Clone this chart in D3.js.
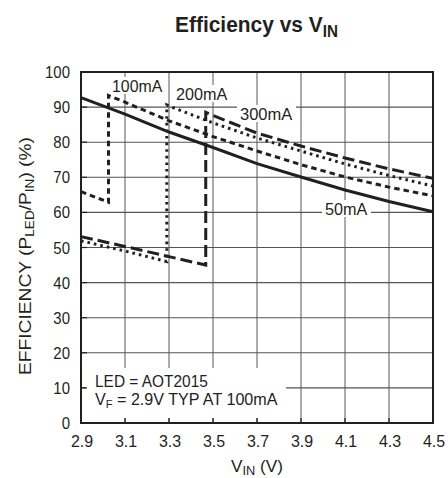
<!DOCTYPE html>
<html><head><meta charset="utf-8">
<script src="https://cdn.jsdelivr.net/npm/d3@7"></script>
<style>
body{margin:0;background:#fff;}
svg text{font-family:'Liberation Sans','Arial',sans-serif;fill:#231f20;}
</style></head>
<body><svg id="c" width="448" height="478"></svg>
<script>
// ---- data ----
const xTicks = [2.9, 3.1, 3.3, 3.5, 3.7, 3.9, 4.1, 4.3, 4.5];
const xTickLabels = ["2.9","3.1","3.3","3.5","3.7","3.9","4.1","4.3","4.5"];
const yTicks = [0,10,20,30,40,50,60,70,80,90,100];

const vin50  = [2.9, 3.1, 3.3, 3.5, 3.7, 3.9, 4.1, 4.3, 4.5];
const eff50  = [92.7, 88.0, 82.9, 78.5, 73.9, 70.1, 66.4, 63.1, 60.2];

const vin100 = [2.9, 3.025, 3.025, 3.1, 3.3, 3.5, 3.7, 3.9, 4.1, 4.3, 4.5];
const eff100 = [65.9, 62.9, 93.3, 91.4, 86.1, 81.6, 77.5, 73.6, 70.1, 67.2, 64.7];

const vin200 = [2.9, 3.1, 3.29, 3.29, 3.3, 3.5, 3.7, 3.9, 4.1, 4.3, 4.5];
const eff200 = [51.9, 49.0, 46.0, 90.6, 90.3, 85.5, 81.2, 77.5, 73.8, 70.5, 67.5];

const vin300 = [2.9, 3.1, 3.3, 3.467, 3.467, 3.5, 3.7, 3.9, 4.1, 4.3, 4.5];
const eff300 = [53.1, 50.3, 47.4, 45.0, 88.5, 87.6, 82.6, 78.9, 75.5, 72.4, 69.7];

const seriesNames = ["50mA","100mA","200mA","300mA"];

// ---- chart ----
const svg = d3.select("#c");
const x = d3.scaleLinear().domain([2.9, 4.5]).range([81, 433]);
const y = d3.scaleLinear().domain([0, 100]).range([423, 72]);
const ink = "#231f20";

// text helper: condensed text via horizontal scale around the anchor point
function ctext(parent, X, Y, opts, build) {
  const g = parent.append("g");
  const t = g.append("text").attr("x", 0).attr("y", 0)
    .attr("text-anchor", opts.anchor || "start")
    .attr("font-size", opts.size || 17);
  if (opts.bold) t.attr("font-weight", "bold");
  build(t);
  let s = opts.scale || 1;
  if (opts.width) s = opts.width / t.node().getBBox().width;
  g.attr("transform", `translate(${X},${Y})${opts.rotate ? " rotate(" + opts.rotate + ")" : ""} scale(${s},1)`);
  return g;
}

// grid
svg.append("g").selectAll("line").data(xTicks.slice(1,-1)).join("line")
  .attr("x1", d=>x(d)).attr("x2", d=>x(d)).attr("y1", y(0)).attr("y2", y(100))
  .attr("stroke", "#666").attr("stroke-width", 1.1);
svg.append("g").selectAll("line").data(yTicks.slice(1,-1)).join("line")
  .attr("x1", x(2.9)).attr("x2", x(4.5)).attr("y1", d=>y(d)).attr("y2", d=>y(d))
  .attr("stroke", "#555").attr("stroke-width", 1.1);

// white box behind the note
svg.append("rect").attr("x", 86).attr("y", 368).attr("width", 200).attr("height", 50).attr("fill", "#fff");

// inner ticks
svg.append("g").selectAll("line").data(xTicks.slice(1,-1)).join("line")
  .attr("x1", d=>x(d)).attr("x2", d=>x(d)).attr("y1", y(0)).attr("y2", y(0)-5)
  .attr("stroke", ink).attr("stroke-width", 1.2);
svg.append("g").selectAll("line").data(yTicks.slice(1,-1)).join("line")
  .attr("x1", x(2.9)).attr("x2", x(2.9)+6).attr("y1", d=>y(d)).attr("y2", d=>y(d))
  .attr("stroke", ink).attr("stroke-width", 1.2);

// series
const line = d3.line().x(d=>x(d[0])).y(d=>y(d[1])).curve(d3.curveLinear);
const series = [
  {v: vin50,  e: eff50,  dash: null},
  {v: vin100, e: eff100, dash: "5.5,4"},
  {v: vin200, e: eff200, dash: "2.6,4"},
  {v: vin300, e: eff300, dash: "12,5"}
];
series.forEach(s => {
  const pts = s.v.map((v,i)=>[v, s.e[i]]);
  svg.append("path").attr("d", line(pts)).attr("fill", "none")
    .attr("stroke", ink).attr("stroke-width", 3)
    .attr("stroke-dasharray", s.dash).attr("stroke-linejoin", "miter");
});

// series labels with white background
const labelPos = [[325,215,43],[112,92,51],[176,100,52],[240,120,53]];
seriesNames.forEach((n,i) => {
  const [lx, ly, lw] = labelPos[i];
  svg.append("rect").attr("x", lx-3).attr("y", ly-15).attr("width", lw+6).attr("height", 17).attr("fill", "#fff");
  ctext(svg, lx, ly, {size: 17, width: lw}, t => t.text(n));
});

// frame
svg.append("rect").attr("x", x(2.9)).attr("y", y(100)).attr("width", x(4.5)-x(2.9)).attr("height", y(0)-y(100))
  .attr("fill", "none").attr("stroke", ink).attr("stroke-width", 2);

// tick labels
yTicks.forEach(d => ctext(svg, 70, y(d) + 6, {size: 17, anchor: "end", scale: 0.88}, t => t.text(d)));
xTicks.forEach((d,i) => ctext(svg, x(d) + 1, 447, {size: 17, anchor: "middle", scale: 0.94}, t => t.text(xTickLabels[i])));

// axis titles
ctext(svg, 257, 472, {size: 16, anchor: "middle", width: 52}, t => {
  t.append("tspan").text("V");
  t.append("tspan").attr("font-size", 12).attr("dy", 3).text("IN");
  t.append("tspan").attr("dy", -3).text(" (V)");
});
ctext(svg, 31, 256, {size: 17, anchor: "middle", rotate: -90, width: 238}, t => {
  t.append("tspan").text("EFFICIENCY (P");
  t.append("tspan").attr("font-size", 12).attr("dy", 3).text("LED");
  t.append("tspan").attr("dy", -3).text("/P");
  t.append("tspan").attr("font-size", 12).attr("dy", 3).text("IN");
  t.append("tspan").attr("dy", -3).text(") (%)");
});

// title
ctext(svg, 256.5, 32, {size: 22, anchor: "middle", bold: true, width: 163}, t => {
  t.append("tspan").text("Efficiency vs V");
  t.append("tspan").attr("font-size", 16).attr("dy", 5).text("IN");
});

// note
ctext(svg, 95, 387, {size: 16, width: 113}, t => t.text("LED = AOT2015"));
ctext(svg, 95, 405, {size: 16, width: 183}, t => {
  t.append("tspan").text("V");
  t.append("tspan").attr("font-size", 11).attr("dy", 3).text("F");
  t.append("tspan").attr("dy", -3).text(" = 2.9V TYP AT 100mA");
});
</script></body></html>
